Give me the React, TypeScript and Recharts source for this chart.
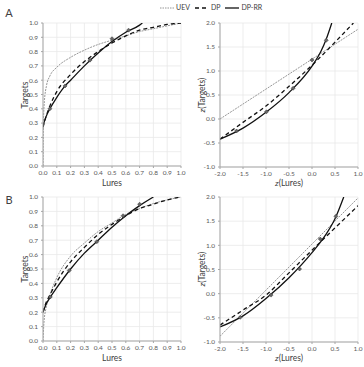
import React from "react";
import {
  ComposedChart,
  Line,
  Scatter,
  XAxis,
  YAxis,
  CartesianGrid,
} from "recharts";

// tick positions
const rocTicks = [0, 0.1, 0.2, 0.3, 0.4, 0.5, 0.6, 0.7, 0.8, 0.9, 1];
const zxTicks = [-2, -1.5, -1, -0.5, 0, 0.5, 1];
const zyTicks = [-1, -0.5, 0, 0.5, 1, 1.5, 2];

// Experiment A, ROC space [lures, targets]
const uevRocA = [
  [0, 0], [0.003, 0.3], [0.01, 0.45], [0.025, 0.56], [0.05, 0.63], [0.1, 0.69],
  [0.2, 0.76], [0.3, 0.81], [0.4, 0.85], [0.5, 0.88], [0.6, 0.91], [0.7, 0.94],
  [0.8, 0.96], [0.9, 0.98], [1, 1],
];
const dpRocA = [
  [0, 0.27], [0.02, 0.34], [0.05, 0.42], [0.1, 0.52], [0.2, 0.64], [0.3, 0.73],
  [0.4, 0.8], [0.5, 0.86], [0.6, 0.91], [0.7, 0.95], [0.8, 0.97], [0.9, 0.99], [1, 1],
];
const dprrRocA = [
  [0, 0.28], [0.02, 0.34], [0.05, 0.4], [0.1, 0.48], [0.16, 0.56], [0.2, 0.6],
  [0.3, 0.7], [0.4, 0.79], [0.5, 0.87], [0.6, 0.935], [0.7, 0.985], [0.72, 1],
];
const obsRocA = [[0.05, 0.4], [0.16, 0.56], [0.34, 0.74], [0.5, 0.89], [0.62, 0.95]];

// Experiment A, zROC space
const uevZA = [[-2, 0], [1, 1.87]];
const dpZA = [[-2, -0.42], [-1.5, -0.07], [-1, 0.27], [-0.5, 0.68], [0, 1.12], [0.5, 1.6], [0.9, 2]];
const dprrZA = [[-2, -0.42], [-1.5, -0.19], [-1, 0.14], [-0.5, 0.55], [0, 1.1], [0.2, 1.42], [0.3, 1.64], [0.43, 2]];
const obsZA = [[-1.64, -0.25], [-0.99, 0.15], [-0.41, 0.64], [0, 1.23], [0.31, 1.64]];

// Experiment B, ROC space
const uevRocB = [
  [0, 0], [0.005, 0.1], [0.01, 0.16], [0.02, 0.22], [0.05, 0.32], [0.1, 0.44],
  [0.2, 0.59], [0.3, 0.68], [0.4, 0.76], [0.5, 0.82], [0.6, 0.88], [0.7, 0.92],
  [0.8, 0.955], [0.9, 0.98], [1, 1],
];
const dpRocB = [
  [0, 0.2], [0.02, 0.26], [0.05, 0.32], [0.1, 0.41], [0.2, 0.55], [0.3, 0.65],
  [0.4, 0.74], [0.5, 0.81], [0.6, 0.87], [0.7, 0.92], [0.8, 0.95], [0.9, 0.98], [1, 1],
];
const dprrRocB = [
  [0, 0.2], [0.02, 0.25], [0.05, 0.3], [0.1, 0.37], [0.2, 0.5], [0.3, 0.61],
  [0.4, 0.7], [0.5, 0.79], [0.6, 0.87], [0.7, 0.94], [0.8, 1],
];
const obsRocB = [[0.053, 0.306], [0.19, 0.49], [0.39, 0.69], [0.58, 0.87], [0.7, 0.95]];

// Experiment B, zROC space
const uevZB = [[-2, -0.88], [1, 1.98]];
const dpZB = [[-2, -0.65], [-1.5, -0.34], [-1, -0.03], [-0.5, 0.43], [0, 0.9], [0.5, 1.36], [1, 1.82]];
const dprrZB = [[-2, -0.69], [-1.5, -0.46], [-1, -0.1], [-0.5, 0.33], [0, 0.85], [0.3, 1.22], [0.5, 1.55], [0.69, 2]];
const obsZB = [[-1.56, -0.49], [-0.89, -0.03], [-0.27, 0.51], [0.18, 1.13], [0.52, 1.6]];

const toPts = (arr: number[][]) => arr.map(([x, y]) => ({ x, y }));

const FONT = "Lato, 'Open Sans', sans-serif";
const tickStyle = { fontSize: 6.5, fill: "#595959", fontFamily: FONT };

const Diamond = (props: any) => {
  const { cx, cy } = props;
  if (cx == null || cy == null) return null;
  const s = 2;
  return (
    <polygon
      points={`${cx},${cy - s} ${cx + s},${cy} ${cx},${cy + s} ${cx - s},${cy}`}
      fill="#666"
      stroke="#333"
      strokeWidth={0.5}
    />
  );
};

type PanelProps = {
  left: number;
  top: number;
  width: number;
  height: number;
  margin: { top: number; right: number; left: number; bottom: number };
  yWidth: number;
  xHeight: number;
  xDomain: [number, number];
  yDomain: [number, number];
  xTicks: number[];
  yTicks: number[];
  uev: number[][];
  dp: number[][];
  dprr: number[][];
  obs: number[][];
};

const Panel = (p: PanelProps) => (
  <div style={{ position: "absolute", left: p.left, top: p.top }}>
    <ComposedChart width={p.width} height={p.height} margin={p.margin}>
      <CartesianGrid stroke="#e8e8e8" strokeWidth={0.8} />
      <XAxis
        type="number"
        dataKey="x"
        domain={p.xDomain}
        ticks={p.xTicks}
        interval={0}
        height={p.xHeight}
        tickFormatter={(v: number) => v.toFixed(1)}
        tick={tickStyle}
        tickSize={2}
        tickMargin={2}
        stroke="#a6a6a6"
        allowDataOverflow
      />
      <YAxis
        type="number"
        dataKey="y"
        domain={p.yDomain}
        ticks={p.yTicks}
        interval={0}
        width={p.yWidth}
        tickFormatter={(v: number) => v.toFixed(1)}
        tick={tickStyle}
        tickSize={2}
        tickMargin={3}
        stroke="#a6a6a6"
        allowDataOverflow
      />
      <Line
        data={toPts(p.uev)}
        dataKey="y"
        type="monotone"
        stroke="#8a8a8a"
        strokeWidth={0.9}
        strokeDasharray="2 1"
        dot={false}
        isAnimationActive={false}
      />
      <Line
        data={toPts(p.dp)}
        dataKey="y"
        type="monotone"
        stroke="#111"
        strokeWidth={1.3}
        strokeDasharray="4 3"
        dot={false}
        isAnimationActive={false}
      />
      <Line
        data={toPts(p.dprr)}
        dataKey="y"
        type="monotone"
        stroke="#111"
        strokeWidth={1.3}
        dot={false}
        isAnimationActive={false}
      />
      <Scatter data={toPts(p.obs)} dataKey="y" shape={Diamond} isAnimationActive={false} />
    </ComposedChart>
  </div>
);

const Title = ({ x, y, rotate, size = 8.5, children }: any) => (
  <div
    style={{
      position: "absolute",
      left: x,
      top: y,
      transform: `translate(-50%, -50%)${rotate ? " rotate(-90deg)" : ""}`,
      fontFamily: FONT,
      fontSize: size,
      color: "#404040",
      whiteSpace: "nowrap",
      lineHeight: 1,
    }}
  >
    {children}
  </div>
);

const LegendItem = ({ dash, color, width, label }: any) => (
  <span style={{ display: "inline-flex", alignItems: "center", marginRight: 5 }}>
    <svg width={14} height={4} style={{ marginRight: 2 }}>
      <line x1={0} y1={2} x2={14} y2={2} stroke={color} strokeWidth={width} strokeDasharray={dash} />
    </svg>
    {label}
  </span>
);

export default function App() {
  return (
    <div
      style={{
        position: "absolute",
        left: 0,
        top: 0,
        width: 364,
        height: 367,
        background: "#fff",
        overflow: "hidden",
      }}
    >
      <div
        style={{
          position: "absolute",
          left: 160,
          top: 4,
          fontFamily: FONT,
          fontSize: 7,
          color: "#404040",
          display: "flex",
          alignItems: "center",
          lineHeight: 1,
        }}
      >
        <LegendItem dash="1.5 1" color="#8a8a8a" width={0.9} label="UEV" />
        <LegendItem dash="4 3" color="#111" width={1.3} label="DP" />
        <LegendItem color="#111" width={1.3} label="DP-RR" />
      </div>

      <Title x={9} y={12} size={11}>A</Title>
      <Title x={9} y={199} size={11}>B</Title>

      <Panel
        left={0} top={0} width={190} height={195}
        margin={{ top: 23, right: 9, left: 5, bottom: 1 }}
        yWidth={38} xHeight={28}
        xDomain={[0, 1]} yDomain={[0, 1]} xTicks={rocTicks} yTicks={rocTicks}
        uev={uevRocA} dp={dpRocA} dprr={dprrRocA} obs={obsRocA}
      />
      <Panel
        left={182} top={0} width={182} height={195}
        margin={{ top: 23, right: 6, left: 5, bottom: 1 }}
        yWidth={33} xHeight={27}
        xDomain={[-2, 1]} yDomain={[-1, 2]} xTicks={zxTicks} yTicks={zyTicks}
        uev={uevZA} dp={dpZA} dprr={dprrZA} obs={obsZA}
      />
      <Panel
        left={0} top={180} width={190} height={187}
        margin={{ top: 17, right: 9, left: 5, bottom: 1 }}
        yWidth={38} xHeight={25}
        xDomain={[0, 1]} yDomain={[0, 1]} xTicks={rocTicks} yTicks={rocTicks}
        uev={uevRocB} dp={dpRocB} dprr={dprrRocB} obs={obsRocB}
      />
      <Panel
        left={182} top={180} width={182} height={187}
        margin={{ top: 17, right: 6, left: 5, bottom: 1 }}
        yWidth={33} xHeight={24}
        xDomain={[-2, 1]} yDomain={[-1, 2]} xTicks={zxTicks} yTicks={zyTicks}
        uev={uevZB} dp={dpZB} dprr={dprrZB} obs={obsZB}
      />

      <Title x={112} y={183}>Lures</Title>
      <Title x={289} y={183}><i>z</i>(Lures)</Title>
      <Title x={25} y={95} rotate>Targets</Title>
      <Title x={202} y={95} rotate><i>z</i>(Targets)</Title>

      <Title x={112} y={358}>Lures</Title>
      <Title x={289} y={358}><i>z</i>(Lures)</Title>
      <Title x={25} y={269} rotate>Targets</Title>
      <Title x={202} y={269} rotate><i>z</i>(Targets)</Title>
    </div>
  );
}
